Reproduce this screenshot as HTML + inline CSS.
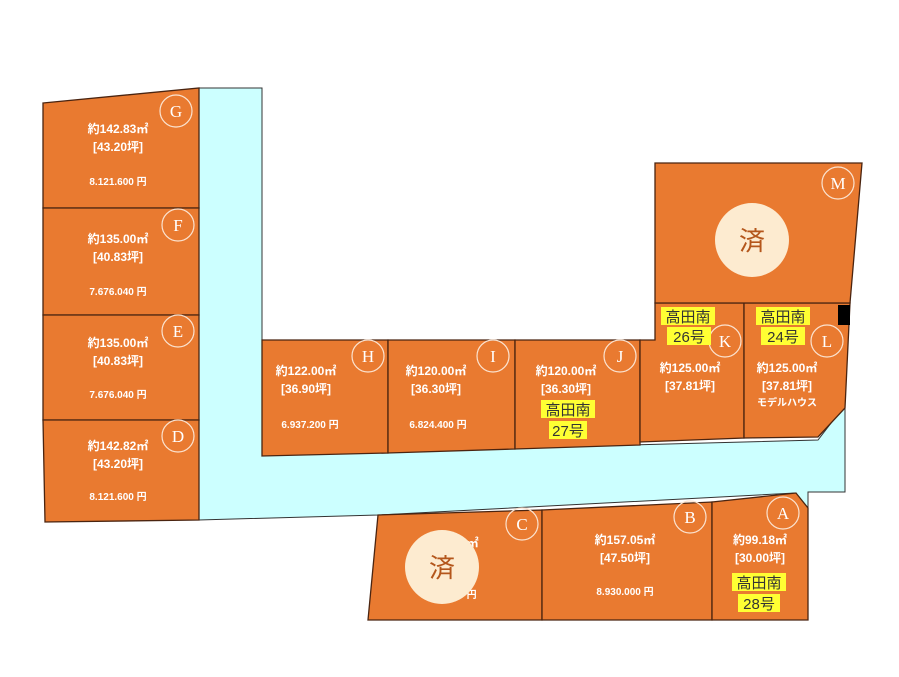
<!DOCTYPE html>
<html><head><meta charset="utf-8"><style>
body{margin:0;background:#fff;}
svg{display:block;font-family:"Liberation Sans","Noto Sans CJK JP",sans-serif;}
.lot{fill:#e97a30;stroke:#4a2410;stroke-width:1.3}
.t{fill:#fff;font-size:12px;text-anchor:middle;font-weight:bold}
.p{fill:#fff;font-size:10px;text-anchor:middle;font-weight:bold}
.c{fill:none;stroke:#fbe3d0;stroke-width:1.2}
.cl{fill:#fff;font-size:17px;text-anchor:middle;font-family:"Liberation Serif",serif}
.y{fill:#ffff33}
.yt{fill:#333;font-size:15px;text-anchor:middle}
</style></head><body>
<svg width="899" height="677" viewBox="0 0 899 677">
<polygon points="199,88 262,88 262,455 818,440 845,405 845,492 808,492 808,508 795,493 378,515 199,520" fill="#ccffff" stroke="#333" stroke-width="1"/>
<polygon class="lot" points="43,103 199,88 199,208 43,208"/>
<polygon class="lot" points="43,208 199,208 199,315 43,315"/>
<polygon class="lot" points="43,315 199,315 199,420 43,420"/>
<polygon class="lot" points="43,420 199,420 199,520 45,522"/>
<polygon class="lot" points="262,340 388,340 388,453 262,456"/>
<polygon class="lot" points="388,340 515,340 515,449 388,453"/>
<polygon class="lot" points="515,340 640,340 640,445 515,449"/>
<polygon class="lot" points="655,303 744,303 744,438 640,442 640,340 655,340"/>
<polygon class="lot" points="744,303 850,303 845,408 818,437 744,438"/>
<polygon class="lot" points="655,163 862,163 850,303 655,303"/>
<rect x="838" y="305" width="12" height="20" fill="#000"/>
<polygon class="lot" points="378,515 542,510 542,620 368,620"/>
<polygon class="lot" points="542,510 712,502 712,620 542,620"/>
<polygon class="lot" points="712,502 796,493 808,508 808,620 712,620"/>

<g>
<circle class="c" cx="176" cy="111" r="16"/><text class="cl" x="176" y="117">G</text>
<text class="t" x="118" y="133">約142.83㎡</text><text class="t" x="118" y="151">[43.20坪]</text><text class="p" x="118" y="185">8.121.600 円</text>
<circle class="c" cx="178" cy="225" r="16"/><text class="cl" x="178" y="231">F</text>
<text class="t" x="118" y="243">約135.00㎡</text><text class="t" x="118" y="261">[40.83坪]</text><text class="p" x="118" y="295">7.676.040 円</text>
<circle class="c" cx="178" cy="331" r="16"/><text class="cl" x="178" y="337">E</text>
<text class="t" x="118" y="347">約135.00㎡</text><text class="t" x="118" y="365">[40.83坪]</text><text class="p" x="118" y="398">7.676.040 円</text>
<circle class="c" cx="178" cy="436" r="16"/><text class="cl" x="178" y="442">D</text>
<text class="t" x="118" y="450">約142.82㎡</text><text class="t" x="118" y="468">[43.20坪]</text><text class="p" x="118" y="500">8.121.600 円</text>

<circle class="c" cx="368" cy="356" r="16"/><text class="cl" x="368" y="362">H</text>
<text class="t" x="306" y="375">約122.00㎡</text><text class="t" x="306" y="393">[36.90坪]</text><text class="p" x="310" y="428">6.937.200 円</text>
<circle class="c" cx="493" cy="356" r="16"/><text class="cl" x="493" y="362">I</text>
<text class="t" x="436" y="375">約120.00㎡</text><text class="t" x="436" y="393">[36.30坪]</text><text class="p" x="438" y="428">6.824.400 円</text>
<circle class="c" cx="620" cy="356" r="16"/><text class="cl" x="620" y="362">J</text>
<text class="t" x="566" y="375">約120.00㎡</text><text class="t" x="566" y="393">[36.30坪]</text>
<rect class="y" x="541" y="400" width="54" height="18"/><text class="yt" x="568" y="415">高田南</text>
<rect class="y" x="549" y="421" width="38" height="18"/><text class="yt" x="568" y="436">27号</text>

<circle class="c" cx="725" cy="341" r="16"/><text class="cl" x="725" y="347">K</text>
<rect class="y" x="661" y="307" width="54" height="18"/><text class="yt" x="688" y="322">高田南</text>
<rect class="y" x="667" y="327" width="44" height="18"/><text class="yt" x="689" y="342">26号</text>
<text class="t" x="690" y="372">約125.00㎡</text><text class="t" x="690" y="390">[37.81坪]</text>
<circle class="c" cx="827" cy="341" r="16"/><text class="cl" x="827" y="347">L</text>
<rect class="y" x="756" y="307" width="54" height="18"/><text class="yt" x="783" y="322">高田南</text>
<rect class="y" x="761" y="327" width="44" height="18"/><text class="yt" x="783" y="342">24号</text>
<text class="t" x="787" y="372">約125.00㎡</text><text class="t" x="787" y="390">[37.81坪]</text><text class="p" x="787" y="406">モデルハウス</text>

<circle class="c" cx="838" cy="183" r="16"/><text class="cl" x="838" y="189">M</text>
<circle cx="752" cy="240" r="37" fill="#fdebd0"/><text x="752" y="250" font-size="26" fill="#b4561b" text-anchor="middle">済</text>

<circle class="c" cx="522" cy="524" r="16"/><text class="cl" x="522" y="530">C</text>
<text class="t" x="455" y="547">約 &#160;&#160;&#160;&#160;&#160;&#160;㎡</text><text class="p" x="455" y="598">9. &#160;&#160;&#160;&#160;&#160;&#160;&#160;&#160;円</text>
<circle cx="442" cy="567" r="37" fill="#fdebd0"/><text x="442" y="577" font-size="26" fill="#b4561b" text-anchor="middle">済</text>
<circle class="c" cx="690" cy="517" r="16"/><text class="cl" x="690" y="523">B</text>
<text class="t" x="625" y="544">約157.05㎡</text><text class="t" x="625" y="562">[47.50坪]</text><text class="p" x="625" y="595">8.930.000 円</text>
<circle class="c" cx="783" cy="513" r="16"/><text class="cl" x="783" y="519">A</text>
<text class="t" x="760" y="544">約99.18㎡</text><text class="t" x="760" y="562">[30.00坪]</text>
<rect class="y" x="732" y="573" width="54" height="18"/><text class="yt" x="759" y="588">高田南</text>
<rect class="y" x="738" y="594" width="42" height="18"/><text class="yt" x="759" y="609">28号</text>
</g>
</svg>
</body></html>
